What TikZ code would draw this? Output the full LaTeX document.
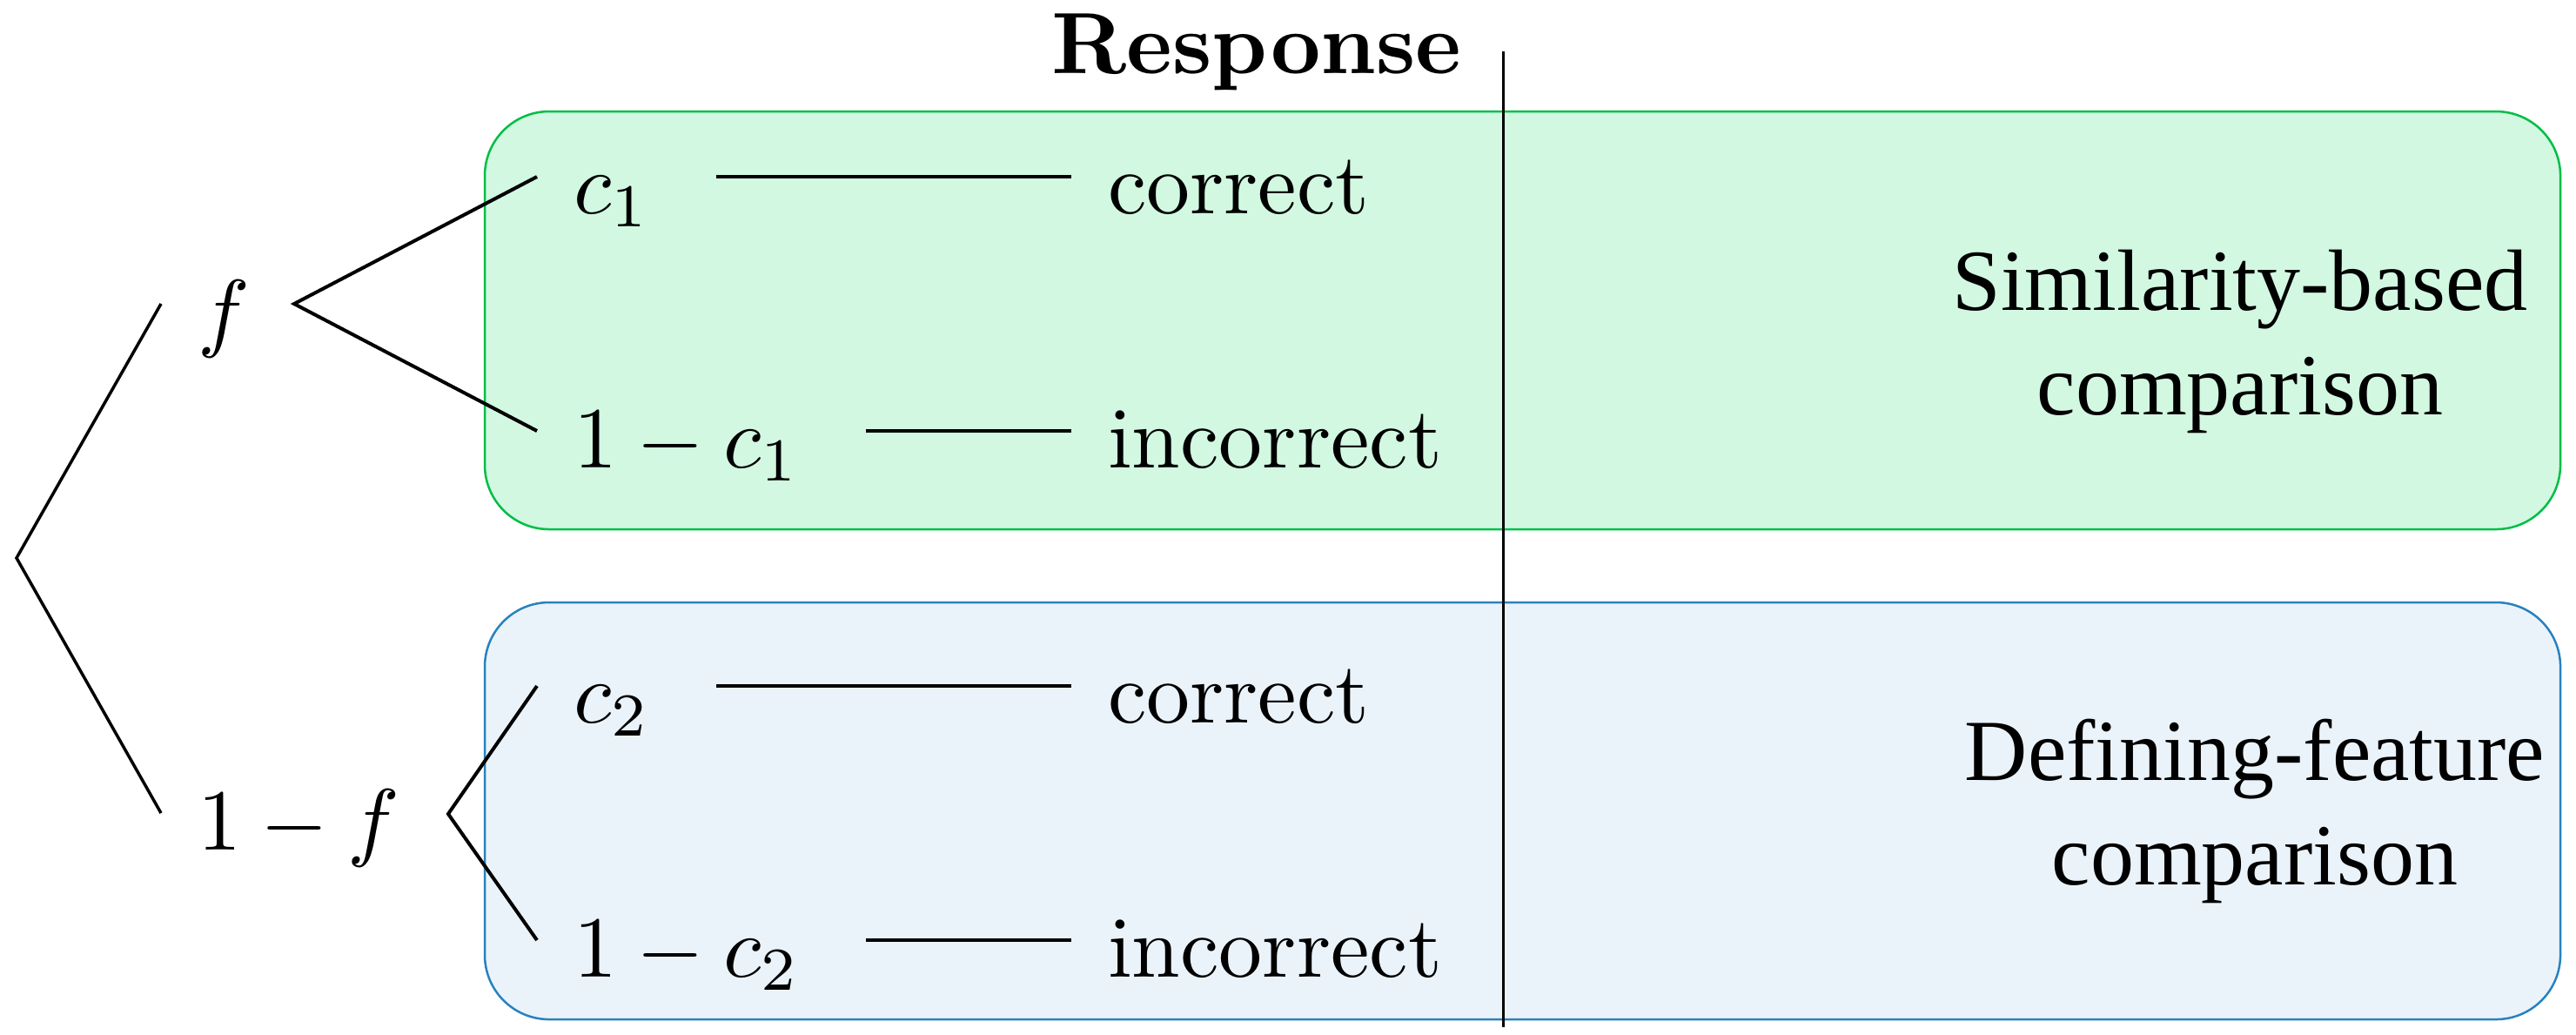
\documentclass[tikz,border=0pt]{standalone}
\usepackage{fontspec}
\newfontfamily\tnr{Liberation Serif}
\definecolor{simfill}{RGB}{210,248,226}
\definecolor{simline}{RGB}{0,190,70}
\definecolor{deffill}{RGB}{235,243,250}
\definecolor{defline}{RGB}{40,130,190}
\begin{document}
\begin{tikzpicture}[x=1pt,y=1pt,
    lbl/.style={anchor=west,inner xsep=4pt,inner ysep=0pt,text height=8.4pt,text depth=0pt},
    group/.style={rounded corners=7.4pt,line width=0.25pt},
    branch/.style={line width=0.4pt},
    side/.style={font=\tnr,align=center,anchor=base}]
  \useasboundingbox (0,0) rectangle (296,118.8);
  % the two groups
  \draw[group,draw=simline,fill=simfill] (55.7,58.0) rectangle (294.2,106.0);
  \draw[group,draw=defline,fill=deffill] (55.7,1.7) rectangle (294.2,49.6);
  \draw[line width=0.3pt] (172.7,112.9) -- (172.7,0.8);
  \node[font=\bfseries,anchor=base] (resp) at (144.4,110.4) {Response};
  % tree
  \coordinate (root) at (1.9,54.7);
  \node[lbl] (f) at (18.5,83.9) {$f$};
  \node[lbl] (omf) at (18.5,25.4) {$1-f$};
  \coordinate (fsplit) at (33.8,83.9);
  \coordinate (omfsplit) at (51.5,25.3);
  \node[lbl] (c1) at (61.7,98.5) {$c_1$};
  \node[lbl] (omc1) at (61.7,69.3) {$1-c_1$};
  \node[lbl] (c2) at (61.7,40.0) {$c_2$};
  \node[lbl] (omc2) at (61.7,10.8) {$1-c_2$};
  \node[lbl] (cor1) at (123.1,98.5) {correct};
  \node[lbl] (inc1) at (123.1,69.3) {incorrect};
  \node[lbl] (cor2) at (123.1,40.0) {correct};
  \node[lbl] (inc2) at (123.1,10.8) {incorrect};
  \draw[line width=0.35pt] (f.west) -- (root) -- (omf.west);
  \draw[branch] (c1.west) -- (fsplit) -- (omc1.west);
  \draw[branch] (c2.west) -- (omfsplit) -- (omc2.west);
  \draw[branch,shorten <=3.4pt] (c1.east) -- (cor1.west);
  \draw[branch,shorten <=3.4pt] (omc1.east) -- (inc1.west);
  \draw[branch,shorten <=3.4pt] (c2.east) -- (cor2.west);
  \draw[branch,shorten <=3.4pt] (omc2.east) -- (inc2.west);
  % labels of the groups
  \node[side] (sim) at (257.4,71.2) {Similarity-based\\comparison};
  \node[side] (def) at (259.1,17.2) {Defining-feature\\comparison};
\end{tikzpicture}
\end{document}
